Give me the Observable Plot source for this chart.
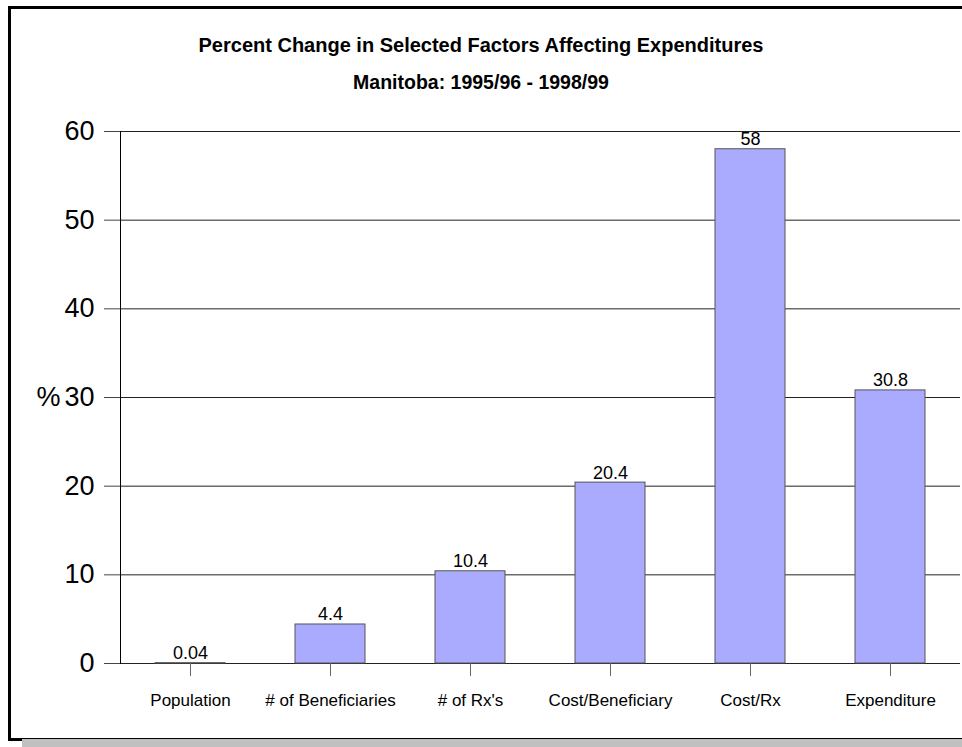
<!DOCTYPE html>
<html>
<head>
<meta charset="utf-8">
<script src="https://cdn.jsdelivr.net/npm/d3@7"></script>
<script src="https://cdn.jsdelivr.net/npm/@observablehq/plot@0.6"></script>
<style>
  html, body { margin: 0; padding: 0; background: #fff; }
  #wrap { position: relative; width: 962px; height: 747px; overflow: hidden; font-family: "Liberation Sans", Arial, sans-serif; }
  #frame { position: absolute; left: 8px; top: 6px; width: 970px; height: 729px; border: 3px solid #000; border-right: none; box-sizing: content-box; }
  #shadow { position: absolute; left: 22px; top: 739px; width: 950px; height: 8px; background: #c0c0c0; }
  .title { position: absolute; left: 0; width: 962px; text-align: center; font-weight: bold; color: #000; white-space: nowrap; }
  #chart { position: absolute; left: 0; top: 0; }
</style>
</head>
<body>
<div id="wrap">
  <div id="frame"></div>
  <div id="shadow"></div>
  <div id="chart"></div>
  <div class="title" id="t1" style="top:33px; font-size:20px; line-height:24px;">Percent Change in Selected Factors Affecting Expenditures</div>
  <div class="title" id="t2" style="top:70px; font-size:19.5px; line-height:24px;">Manitoba: 1995/96 - 1998/99</div>
</div>
<script>
const categories = ["Population", "# of Beneficiaries", "# of Rx's", "Cost/Beneficiary", "Cost/Rx", "Expenditure"];
const values = [0.04, 4.4, 10.4, 20.4, 58, 30.8];
const valueLabels = ["0.04", "4.4", "10.4", "20.4", "58", "30.8"];
const yTicks = [0, 10, 20, 30, 40, 50, 60];
const yUnitLabel = "%";
const yUnitAt = 30;

const rows = categories.map((c, i) => ({category: c, value: values[i], label: valueLabels[i]}));

const chart = Plot.plot({
  width: 962,
  height: 747,
  marginLeft: 120,
  marginRight: 2,
  marginTop: 131,
  marginBottom: 84,
  style: {fontFamily: "Liberation Sans, Arial, sans-serif", color: "#000", background: "transparent"},
  x: {domain: categories, paddingInner: 0.5, paddingOuter: 0.25},
  y: {domain: [0, 60]},
  marks: [
    Plot.ruleY(yTicks, {stroke: "#222", strokeWidth: 1}),
    Plot.barY(rows, {x: "category", y: "value", fill: "#aaaaff", stroke: "#555", strokeWidth: 1}),
    Plot.text(rows, {x: "category", y: "value", text: "label", lineAnchor: "bottom", dy: -4, fontSize: 18, fill: "#000"}),
    Plot.axisY({ticks: yTicks, tickSize: 16, tickPadding: 10, fontSize: 27, label: null, stroke: "#444"}),
    Plot.axisX({tickSize: 13, tickPadding: 17, fontSize: 17, label: null, stroke: "#666"}),
    Plot.frame({anchor: "left", stroke: "#000"}),
    Plot.text([yUnitLabel], {text: d => d, y: () => yUnitAt, frameAnchor: "left", dx: -60, textAnchor: "end", fontSize: 27, fill: "#000"})
  ]
});
document.getElementById("chart").appendChild(chart);
</script>
</body>
</html>
